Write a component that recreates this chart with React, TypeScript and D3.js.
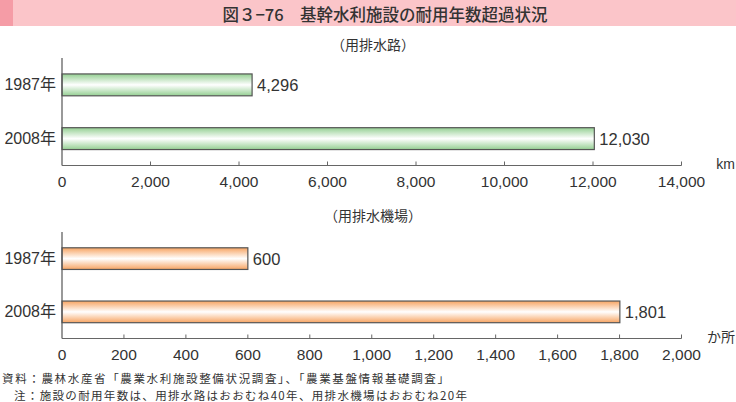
import React from "react";
import * as d3 from "d3";

const categories = ["1987年", "2008年"];
const canalValues = [4296, 12030];
const pumpValues = [600, 1801];
const canalTicks = [0, 2000, 4000, 6000, 8000, 10000, 12000, 14000];
const pumpTicks = [0, 200, 400, 600, 800, 1000, 1200, 1400, 1600, 1800, 2000];

const W = 736;
const H = 402;
const FONT = "'Liberation Sans', Arial, 'Noto Sans CJK JP', sans-serif";
const JP = "'Noto Sans CJK JP', sans-serif";
const TXT = "#333";
const fmt = d3.format(",");

type PanelProps = {
  values: number[];
  ticks: number[];
  max: number;
  top: number;
  bottom: number;
  gradId: string;
  unit: string;
  subtitle: string;
  subtitleY: number;
};

function Panel({ values, ticks, max, top, bottom, gradId, unit, subtitle, subtitleY }: PanelProps) {
  const x = d3.scaleLinear().domain([0, max]).range([62, 681.5]);
  const p = 0.593;
  const y = d3
    .scaleBand<string>()
    .domain(categories)
    .range([top, bottom])
    .paddingInner(p)
    .paddingOuter(p / 2);
  return (
    <g>
      <text x={373} y={subtitleY} textAnchor="middle" dominantBaseline="central" fontFamily={JP} fontSize={14} fill={TXT}>
        （用排水{subtitle}）
      </text>
      {categories.map((c, i) => {
        const y0 = y(c)!;
        const bw = y.bandwidth();
        return (
          <g key={c}>
            <rect x={x(0)} y={y0} width={x(values[i]) - x(0)} height={bw} fill={`url(#${gradId})`} stroke="#555" strokeWidth={1.2} />
            <text x={56} y={y0 + bw / 2} textAnchor="end" dominantBaseline="central" fontFamily={FONT} fontSize={16} fill={TXT}>
              {c}
            </text>
            <text x={x(values[i]) + 5} y={y0 + bw / 2} dominantBaseline="central" fontFamily={FONT} fontSize={16.5} fill={TXT}>
              {fmt(values[i])}
            </text>
          </g>
        );
      })}
      <line x1={x(0)} x2={x(0)} y1={top} y2={bottom} stroke="#555" strokeWidth={1.2} />
      <line x1={x(0)} x2={x(max)} y1={bottom} y2={bottom} stroke="#666" strokeWidth={1.2} />
      {ticks.map((t) => (
        <g key={t}>
          {t > 0 && <line x1={x(t)} x2={x(t)} y1={bottom} y2={bottom - 4} stroke="#666" strokeWidth={1} />}
          <text x={x(t)} y={bottom + 16} textAnchor="middle" dominantBaseline="central" fontFamily={FONT} fontSize={15.5} fill={TXT}>
            {fmt(t)}
          </text>
        </g>
      ))}
      <text x={735} y={bottom - 2} dominantBaseline="central" textAnchor="end" fontFamily={FONT} fontSize={14} fill={TXT}>
        {unit}
      </text>
    </g>
  );
}

export default function App() {
  return (
    <svg width={W} height={H} style={{ position: "absolute", left: 0, top: 0, background: "#fff" }}>
      <defs>
        <linearGradient id="gGreen" x1="0" y1="0" x2="0" y2="1">
          <stop offset="0" stopColor="#94cf92" />
          <stop offset="0.5" stopColor="#ffffff" />
          <stop offset="1" stopColor="#94cf92" />
        </linearGradient>
        <linearGradient id="gOrange" x1="0" y1="0" x2="0" y2="1">
          <stop offset="0" stopColor="#f7a462" />
          <stop offset="0.5" stopColor="#ffffff" />
          <stop offset="1" stopColor="#f7a462" />
        </linearGradient>
      </defs>
      <rect x={0} y={0} width={W} height={26} fill="#fbc5c9" />
      <rect x={0} y={0} width={13} height={26} fill="#f59ca6" />
      <text x={385} y={14} textAnchor="middle" dominantBaseline="central" fontFamily={JP} fontSize={16.5} fontWeight={500} fill={TXT}>
        図３−76　基幹水利施設の耐用年数超過状況
      </text>
      <Panel values={canalValues} ticks={canalTicks} max={14000} top={58} bottom={165.5} gradId="gGreen" unit="km" subtitle="路" subtitleY={44} />
      <Panel values={pumpValues} ticks={pumpTicks} max={2000} top={232} bottom={338.5} gradId="gOrange" unit="か所" subtitle="機場" subtitleY={215} />
      <text x={2} y={377.5} dominantBaseline="central" fontFamily={JP} fontSize={11.5} textLength={447} lengthAdjust="spacing" fill={TXT}>
        資料：農林水産省「農業水利施設整備状況調査」、「農業基盤情報基礎調査」
      </text>
      <text x={14} y={394.5} dominantBaseline="central" fontFamily={JP} fontSize={11.5} textLength={453} lengthAdjust="spacing" fill={TXT}>
        注：施設の耐用年数は、用排水路はおおむね40年、用排水機場はおおむね20年
      </text>
    </svg>
  );
}
